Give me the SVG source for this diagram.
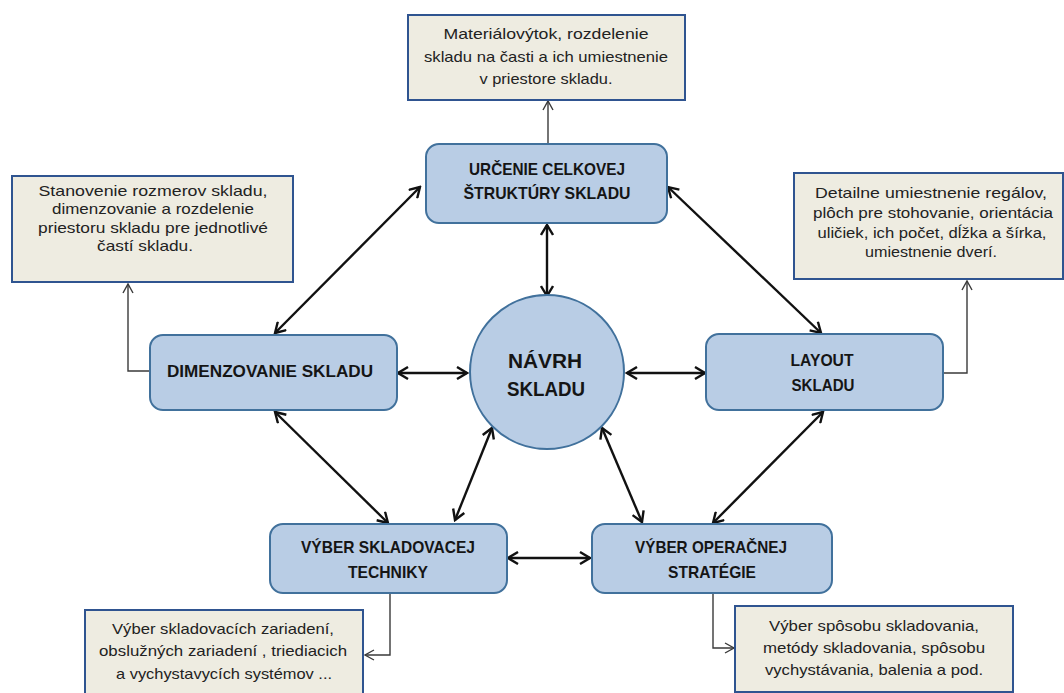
<svg xmlns="http://www.w3.org/2000/svg" width="1064" height="693" viewBox="0 0 1064 693">
<style>
.node{fill:#b9cde5;stroke:#41719c;stroke-width:2}
.note{fill:#eeece1;stroke:#2f5490;stroke-width:2}
.nt{font-family:"Liberation Sans",Arial,sans-serif;font-weight:bold;font-size:17px;fill:#151515;text-anchor:middle}
.ct{font-family:"Liberation Sans",Arial,sans-serif;font-weight:bold;font-size:21px;fill:#151515;text-anchor:middle}
.tt{font-family:"Liberation Sans",Arial,sans-serif;font-size:15px;fill:#222;text-anchor:middle}
.thick{stroke:#111;stroke-width:2.4;fill:none}
.thin{stroke:#3a3a3a;stroke-width:1.4;fill:none}
</style>
<defs>
<marker id="ah" viewBox="0 0 14 14" refX="12" refY="7" markerWidth="14" markerHeight="14" markerUnits="userSpaceOnUse" orient="auto-start-reverse">
<path d="M2,1 L12,7 L2,13" fill="none" stroke="#111" stroke-width="2.4"/>
</marker>
<marker id="ahs" viewBox="0 0 12 12" refX="10" refY="6" markerWidth="12" markerHeight="12" markerUnits="userSpaceOnUse" orient="auto">
<path d="M1,1 L10,6 L1,11" fill="none" stroke="#3a3a3a" stroke-width="1.4"/>
</marker>
</defs>
<rect width="1064" height="693" fill="#ffffff"/>
<g id="connectors">
<line class="thick" x1="420" y1="187" x2="275" y2="333" marker-start="url(#ah)" marker-end="url(#ah)"/>
<line class="thick" x1="668" y1="187" x2="821" y2="333" marker-start="url(#ah)" marker-end="url(#ah)"/>
<line class="thick" x1="547" y1="225" x2="547" y2="296" marker-start="url(#ah)" marker-end="url(#ah)"/>
<line class="thick" x1="398" y1="373" x2="467" y2="373" marker-start="url(#ah)" marker-end="url(#ah)"/>
<line class="thick" x1="627" y1="373" x2="705" y2="373" marker-start="url(#ah)" marker-end="url(#ah)"/>
<line class="thick" x1="275" y1="412" x2="388" y2="523" marker-start="url(#ah)" marker-end="url(#ah)"/>
<line class="thick" x1="492" y1="428" x2="455" y2="520" marker-start="url(#ah)" marker-end="url(#ah)"/>
<line class="thick" x1="602" y1="428" x2="642" y2="522" marker-start="url(#ah)" marker-end="url(#ah)"/>
<line class="thick" x1="823" y1="412" x2="713" y2="523" marker-start="url(#ah)" marker-end="url(#ah)"/>
<line class="thick" x1="508" y1="558" x2="590" y2="558" marker-start="url(#ah)" marker-end="url(#ah)"/>
<path class="thin" d="M548,144 L548,101" marker-end="url(#ahs)"/>
<path class="thin" d="M150,371 L128,371 L128,284" marker-end="url(#ahs)"/>
<path class="thin" d="M943,373 L967,373 L967,281" marker-end="url(#ahs)"/>
<path class="thin" d="M390,593 L390,655 L365,655" marker-end="url(#ahs)"/>
<path class="thin" d="M713,593 L713,648 L734,648" marker-end="url(#ahs)"/>
</g>
<g id="note-top">
<rect class="note" x="408" y="15" width="277" height="85"/>
<text class="tt" x="546" y="39" textLength="205" lengthAdjust="spacingAndGlyphs">Materiálovýtok, rozdelenie</text>
<text class="tt" x="546" y="62" textLength="244" lengthAdjust="spacingAndGlyphs">skladu na časti a ich umiestnenie</text>
<text class="tt" x="546" y="84" textLength="133" lengthAdjust="spacingAndGlyphs">v priestore skladu.</text>
</g>
<g id="node-urcenie">
<rect class="node" x="426" y="144" width="241" height="79" rx="13"/>
<text class="nt" x="547" y="175" textLength="156" lengthAdjust="spacingAndGlyphs">URČENIE CELKOVEJ</text>
<text class="nt" x="547" y="199" textLength="167" lengthAdjust="spacingAndGlyphs">ŠTRUKTÚRY SKLADU</text>
</g>
<g id="note-left">
<rect class="note" x="12" y="176" width="281" height="106"/>
<text class="tt" x="153" y="196" textLength="229" lengthAdjust="spacingAndGlyphs">Stanovenie rozmerov skladu,</text>
<text class="tt" x="153" y="214" textLength="202" lengthAdjust="spacingAndGlyphs">dimenzovanie a rozdelenie</text>
<text class="tt" x="153" y="233" textLength="230" lengthAdjust="spacingAndGlyphs">priestoru skladu pre jednotlivé</text>
<text class="tt" x="145" y="251" textLength="96" lengthAdjust="spacingAndGlyphs">častí skladu.</text>
</g>
<g id="node-dimenzovanie">
<rect class="node" x="150" y="335" width="247" height="75" rx="13"/>
<text class="nt" x="270" y="377" textLength="206" lengthAdjust="spacingAndGlyphs">DIMENZOVANIE  SKLADU</text>
</g>
<g id="note-right">
<rect class="note" x="794" y="173" width="269" height="106"/>
<text class="tt" x="931" y="198" textLength="232" lengthAdjust="spacingAndGlyphs">Detailne umiestnenie  regálov,</text>
<text class="tt" x="933" y="218" textLength="240" lengthAdjust="spacingAndGlyphs">plôch pre stohovanie, orientácia</text>
<text class="tt" x="932" y="238" textLength="229" lengthAdjust="spacingAndGlyphs">uličiek, ich počet, dĺžka a šírka,</text>
<text class="tt" x="931" y="257" textLength="132" lengthAdjust="spacingAndGlyphs">umiestnenie dverí.</text>
</g>
<g id="node-layout">
<rect class="node" x="706" y="334" width="237" height="76" rx="13"/>
<text class="nt" x="822" y="366" textLength="63" lengthAdjust="spacingAndGlyphs">LAYOUT</text>
<text class="nt" x="823" y="391" textLength="63" lengthAdjust="spacingAndGlyphs">SKLADU</text>
</g>
<g id="node-navrh">
<circle class="node" cx="547" cy="372" r="77"/>
<text class="ct" x="545" y="368" textLength="74" lengthAdjust="spacingAndGlyphs">NÁVRH</text>
<text class="ct" x="546" y="396" textLength="78" lengthAdjust="spacingAndGlyphs">SKLADU</text>
</g>
<g id="node-technika">
<rect class="node" x="270" y="524" width="237" height="69" rx="13"/>
<text class="nt" x="388" y="553" textLength="174" lengthAdjust="spacingAndGlyphs">VÝBER SKLADOVACEJ</text>
<text class="nt" x="388" y="578" textLength="80" lengthAdjust="spacingAndGlyphs">TECHNIKY</text>
</g>
<g id="note-technika">
<rect class="note" x="85" y="610" width="278" height="90"/>
<text class="tt" x="223" y="634" textLength="222" lengthAdjust="spacingAndGlyphs">Výber skladovacích zariadení,</text>
<text class="tt" x="223" y="656" textLength="248" lengthAdjust="spacingAndGlyphs">obslužných zariadení , triediacich</text>
<text class="tt" x="224" y="679" textLength="216" lengthAdjust="spacingAndGlyphs">a vychystavycích systémov ...</text>
</g>
<g id="node-strategia">
<rect class="node" x="592" y="524" width="240" height="69" rx="13"/>
<text class="nt" x="711" y="553" textLength="152" lengthAdjust="spacingAndGlyphs">VÝBER OPERAČNEJ</text>
<text class="nt" x="712" y="578" textLength="88" lengthAdjust="spacingAndGlyphs">STRATÉGIE</text>
</g>
<g id="note-strategia">
<rect class="note" x="735" y="606" width="278" height="86"/>
<text class="tt" x="874" y="631" textLength="210" lengthAdjust="spacingAndGlyphs">Výber spôsobu skladovania,</text>
<text class="tt" x="874" y="653" textLength="222" lengthAdjust="spacingAndGlyphs">metódy  skladovania, spôsobu</text>
<text class="tt" x="874" y="675" textLength="218" lengthAdjust="spacingAndGlyphs">vychystávania, balenia a pod.</text>
</g>
</svg>
